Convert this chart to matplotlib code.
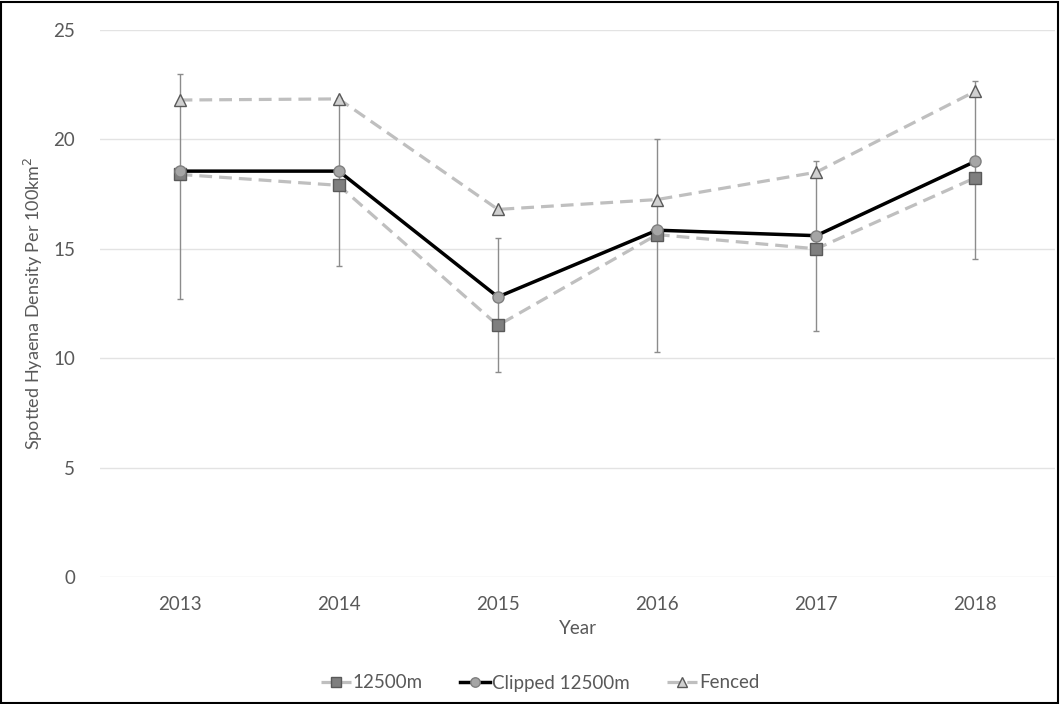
import matplotlib.pyplot as plt
from matplotlib.patches import Rectangle
import numpy as np

plt.rcParams['font.family'] = ['Lato', 'DejaVu Sans']

years = ['2013', '2014', '2015', '2016', '2017', '2018']
dens_12500 = [18.4, 17.9, 11.5, 15.65, 15.0, 18.25]
dens_clipped = [18.55, 18.55, 12.8, 15.85, 15.6, 19.0]
dens_fenced = [21.8, 21.85, 16.8, 17.25, 18.5, 22.2]
# error bar limits (lower, upper) on the clipped estimate
err_low = [12.7, 14.2, 9.35, 10.3, 11.25, 14.55]
err_high = [23.0, 21.9, 15.5, 20.0, 19.0, 22.65]

txt = '#595959'
x = np.arange(len(years))

fig = plt.figure(figsize=(10.61, 7.04), dpi=100)
ax = fig.add_axes([100 / 1061, 127 / 704, 955 / 1061, 547 / 704])

yerr = [np.array(dens_clipped) - np.array(err_low),
        np.array(err_high) - np.array(dens_clipped)]
ax.errorbar(x, dens_clipped, yerr=yerr, fmt='none', ecolor='#8c8c8c',
            elinewidth=1, capsize=2, capthick=1, zorder=2)

ax.plot(x, dens_12500, color='#bfbfbf', lw=2.3, ls=(0, (4, 2.2)),
        marker='s', ms=8, mfc='#7f7f7f', mec='#595959', mew=1,
        label='12500m', zorder=3)
ax.plot(x, dens_clipped, color='black', lw=2.5,
        marker='o', ms=8, mfc='#a5a5a5', mec='#7f7f7f', mew=1,
        label='Clipped 12500m', zorder=4)
ax.plot(x, dens_fenced, color='#bfbfbf', lw=2.3, ls=(0, (4, 2.2)),
        marker='^', ms=8.5, mfc='#d0d0d0', mec='#595959', mew=1,
        label='Fenced', zorder=3)

ax.set_xlim(-0.5, len(years) - 0.5)
ax.set_ylim(0, 25)
ax.set_yticks(range(0, 26, 5))
ax.set_xticks(x)
ax.set_xticklabels(years)
ax.tick_params(length=0, labelsize=13.5, colors=txt, pad=14)
ax.tick_params(axis='y', pad=18)
ax.grid(axis='y', color='#e3e3e3', lw=1)
ax.set_axisbelow(True)
for s in ax.spines.values():
    s.set_visible(False)

ax.set_xlabel('Year', fontsize=13.5, color=txt, labelpad=5)
ax.set_ylabel('Spotted Hyaena Density Per 100km$^2$', fontsize=13,
              color=txt, labelpad=6)

ax.legend(loc='center', bbox_to_anchor=(540 / 1061, 21 / 704),
          bbox_transform=fig.transFigure, ncol=3, frameon=False,
          fontsize=13.5, labelcolor=txt, handlelength=1.6, handletextpad=0.1,
          columnspacing=2.0, markerscale=0.85)

fig.patches.append(Rectangle((1 / 1061, 1 / 704), 1057 / 1061, 701 / 704,
                             transform=fig.transFigure, fill=False,
                             edgecolor='black', lw=1.5))

fig.savefig('out.png', dpi=100, facecolor='white')
